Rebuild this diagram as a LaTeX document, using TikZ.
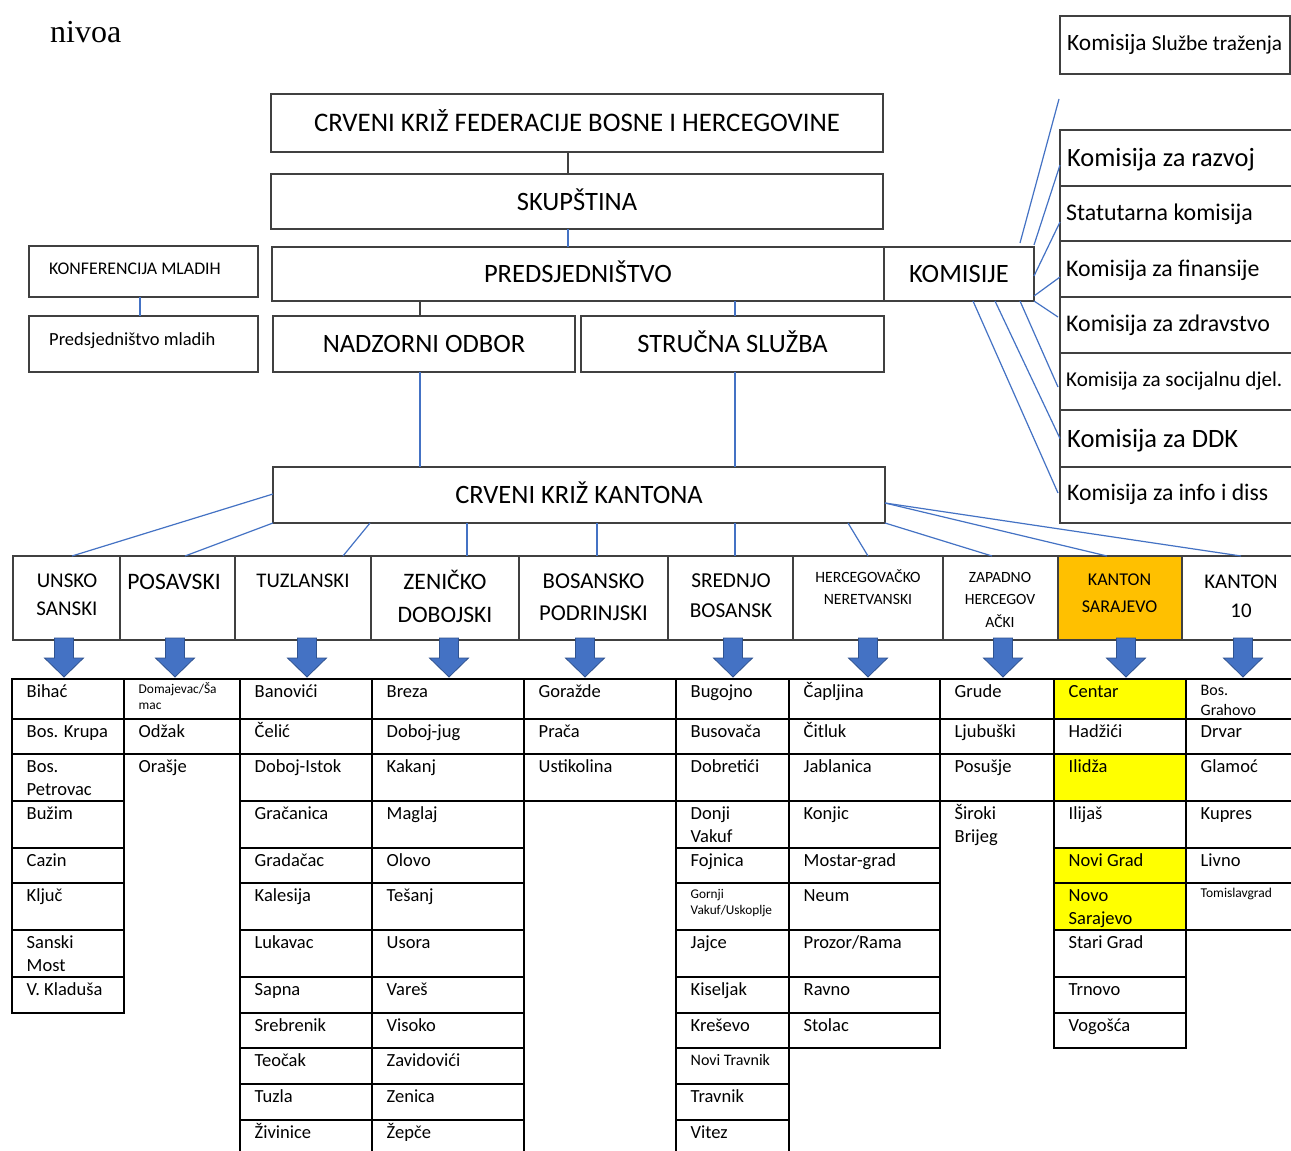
\documentclass[tikz,border=0pt]{standalone}
\usepackage{fontspec}
\setmainfont{Carlito}
\newfontfamily\timesf{Liberation Serif}
\usetikzlibrary{calc}
\definecolor{lnblue}{HTML}{4472C4}
\definecolor{arrfill}{HTML}{4472C4}
\definecolor{arrdraw}{HTML}{2F528F}
\definecolor{boxc}{HTML}{404040}
\definecolor{orangec}{HTML}{FFC000}
\definecolor{yel}{HTML}{FFFF00}
\newcommand\fs[2][]{\fontsize{#2}{#2}\selectfont}
\newcommand\bx[7][]{\node[box,minimum width={#5pt-#3pt},minimum height={#6pt-#4pt},#1] (#2) at (#3,#4) {#7};}
\newcommand\hd[4]{\node[hdr,minimum width={#3pt-#2pt},minimum height=84pt,fill=#4] (#1) at (#2,556) {};}
\newcommand\tc[8][]{\draw[tbl,fill=#7] (#3,#5) rectangle (#4,#6); \node[ctext,#1] (#2) at (#3+14.5,#5+18.5) {#8};}
\begin{document}
\begin{tikzpicture}[x=1pt,y=-1pt,
  box/.style={draw=boxc,line width=1.4pt,anchor=north west,inner sep=0pt,outer sep=0pt,text height=17pt,text depth=0pt,font=\fs{26.5}},
  hdr/.style={draw=boxc,line width=1.6pt,anchor=north west,inner sep=0pt,outer sep=0pt},
  conn/.style={draw=lnblue,line width=1.2pt},
  dconn/.style={draw=boxc,line width=1.2pt},
  lbl/.style={anchor=base west,inner sep=0pt},
  clbl/.style={anchor=base,inner sep=0pt,align=center},
  tbl/.style={draw=black,line width=2.6pt},
  ctext/.style={anchor=base west,inner sep=0pt,align=left,font=\fontsize{18.5}{23}\selectfont},
  two/.style={yshift=-23pt},
  smallA/.style={font=\fontsize{13.4}{16}\selectfont,yshift=-11.5pt},
  smallG/.style={font=\fontsize{13.3}{16}\selectfont,yshift=-12.5pt},
  smallN/.style={font=\fontsize{16}{16}\selectfont,yshift=1.5pt},
  smallB/.style={font=\fontsize{16}{20}\selectfont,yshift=-17.5pt},
  smallT/.style={font=\fontsize{13.5}{16}\selectfont,yshift=4.5pt},
  barrow/.style={fill=arrfill,draw=arrdraw,line width=0.8pt}]
\fill[white] (0,0) rectangle (1291,1151);
\useasboundingbox (0,0) rectangle (1291,1151);

\node[lbl,font=\timesf\fontsize{32}{32}\selectfont] (niv) at (50,42) {nivoa};

% upper structure
\bx[font=\fs{26.8}]{fed}{271}{94}{883}{152}{CRVENI KRIŽ FEDERACIJE BOSNE I HERCEGOVINE}
\bx{skup}{271}{174}{883}{229}{SKUPŠTINA}
\bx{pred}{272}{247}{884}{301}{PREDSJEDNIŠTVO}
\bx{kom}{884}{247}{1034}{301}{KOMISIJE}
\bx{konf}{29}{246}{258}{297}{}
\node[lbl,font=\fs{17.8}] (konft) at (49,274) {KONFERENCIJA MLADIH};
\bx{pmlad}{29}{316}{258}{372}{}
\node[lbl,font=\fs{18.5}] (pmladt) at (49,345) {Predsjedništvo mladih};
\bx{nadz}{273}{316}{575}{372}{NADZORNI ODBOR}
\bx{struc}{581}{316}{884}{372}{STRUČNA SLUŽBA}
\bx{kant}{273}{467}{885}{523}{CRVENI KRIŽ KANTONA}

% commissions
\bx{ksl}{1060}{16}{1290}{74}{}
\node[lbl] (kslt) at (1067,50) {\fs{23.4}Komisija \fs{21.3}Službe traženja};
\bx{kraz}{1060}{130}{1296}{186}{}
\bx{kstat}{1060}{186}{1296}{241}{}
\bx{kfin}{1060}{241}{1296}{297}{}
\bx{kzdr}{1060}{297}{1296}{353}{}
\bx{ksoc}{1060}{353}{1296}{410}{}
\bx{kddk}{1060}{410}{1296}{467}{}
\bx{kinfo}{1060}{467}{1296}{523}{}
\node[lbl,font=\fs{26.4}] (krazt) at (1067,166) {Komisija za razvoj};
\node[lbl,font=\fs{23.9}] (kstatt) at (1066,220) {Statutarna komisija};
\node[lbl,font=\fs{23.8}] (kfint) at (1066,276) {Komisija za finansije};
\node[lbl,font=\fs{23.9}] (kzdrt) at (1066,331) {Komisija za zdravstvo};
\node[lbl,font=\fs{21.1}] (ksoct) at (1066,386) {Komisija za socijalnu djel.};
\node[lbl,font=\fs{26.5}] (kddkt) at (1067,447) {Komisija za DDK};
\node[lbl,font=\fs{23.7}] (kinfot) at (1067,500) {Komisija za info i diss};

% connectors upper
\draw[dconn] ($(fed.south)+(-9,0)$) -- ($(skup.north)+(-9,0)$);
\draw[conn] ($(skup.south)+(-9,0)$) -- ($(pred.north)+(-10,0)$);
\draw[conn] ($(konf.south)+(-3.5,0)$) -- ($(pmlad.north)+(-3.5,0)$);
\draw[dconn] ($(nadz.north)+(-4,0)$) -- ($(pred.south)+(-158,0)$);
\draw[conn] ($(struc.north)+(2.5,0)$) -- ($(pred.south)+(157,0)$);
\draw[conn] ($(nadz.south)+(-4,0)$) -- ($(kant.north)+(-159,0)$);
\draw[conn] ($(struc.south)+(2.5,0)$) -- ($(kant.north)+(156,0)$);

\coordinate (slfree) at (1059,99);
\draw[conn] ($(kom.north east)+(-14,-4)$) -- (slfree);
\draw[conn] ($(kom.north east)+(0,-2)$) -- ($(kraz.west)+(0,7)$);
\draw[conn] ($(kom.east)+(0,2)$) -- ($(kstat.west)+(0,8.5)$);
\draw[conn] ($(kom.east)+(0,22)$) -- ($(kfin.west)+(0,8)$);
\draw[conn] (kom.south east) -- ($(kzdr.west)+(-2,-8)$);
\draw[conn] ($(kom.south east)+(-14,0)$) -- ($(ksoc.west)+(-2,5.5)$);
\draw[conn] ($(kom.south east)+(-39,0)$) -- (kddk.west);
\draw[conn] ($(kom.south east)+(-61,0)$) -- ($(kinfo.west)+(-2,-2)$);

% canton headers
\hd{hus}{13}{120}{white}
\hd{hpos}{120}{235}{white}
\hd{htuz}{235}{371}{white}
\hd{hzen}{371}{519}{white}
\hd{hbos}{519}{668}{white}
\hd{hsred}{668}{793}{white}
\hd{hherc}{793}{943}{white}
\hd{hzap}{943}{1058}{white}
\hd{hsar}{1058}{1182}{orangec}
\hd{hk10}{1182}{1300}{white}
\node[clbl,font=\fontsize{21}{28}\selectfont] (tus) at (67,615) {UNSKO\\SANSKI};
\node[clbl,font=\fontsize{23.6}{33}\selectfont] (tpos) at (174,589) {POSAVSKI};
\node[clbl,font=\fontsize{20.8}{28}\selectfont] (ttuz) at (303,587) {TUZLANSKI};
\node[clbl,font=\fontsize{23.6}{33}\selectfont] (tzen) at (445,622) {ZENIČKO\\DOBOJSKI};
\node[clbl,font=\fontsize{22.7}{32}\selectfont] (tbos) at (593.5,620) {BOSANSKO\\PODRINJSKI};
\node[clbl,font=\fontsize{21.3}{30}\selectfont] (tsred) at (731,617) {SREDNJO\\BOSANSK};
\node[clbl,font=\fontsize{15.7}{22}\selectfont] (therc) at (868,604) {HERCEGOVAČKO\\NERETVANSKI};
\node[clbl,font=\fontsize{15.6}{22.5}\selectfont] (tzap) at (1000,627) {ZAPADNO\\HERCEGOV\\AČKI};
\node[clbl,font=\fontsize{18}{27}\selectfont] (tsar) at (1119.5,612) {KANTON\\SARAJEVO};
\node[clbl,font=\fontsize{20.9}{29}\selectfont] (tk10) at (1241,617) {KANTON\\10};

% connectors to cantons
\draw[conn] ($(kant.west)+(0,-1)$) -- ($(hus.north)+(5.5,0)$);
\draw[conn] (kant.south west) -- ($(hpos.north)+(7.5,0)$);
\draw[conn] ($(kant.south west)+(97,0)$) -- ($(htuz.north)+(40,0)$);
\draw[conn] ($(kant.south west)+(194,0)$) -- ($(hzen.north)+(22,0)$);
\draw[conn] ($(kant.south west)+(324,0)$) -- ($(hbos.north)+(3.5,0)$);
\draw[conn] ($(kant.south west)+(462,0)$) -- ($(hsred.north)+(4.5,0)$);
\draw[conn] ($(kant.south west)+(575,0)$) -- (hherc.north);
\draw[conn] (kant.south east) -- ($(hzap.north)+(-8.5,0)$);
\draw[conn] ($(kant.east)+(0,8)$) -- ($(hsar.north)+(-13,0)$);
\draw[conn] ($(kant.east)+(0,8)$) -- (hk10.north);

% block arrows
\foreach \ax in {64,175,307,449,585,733,868,1003,1126,1243}{
  \draw[barrow] (\ax-9.5,638) -- (\ax+9.5,638) -- (\ax+9.5,658) -- (\ax+19.5,658) -- (\ax,677) -- (\ax-19.5,658) -- (\ax-9.5,658) -- cycle;
}

% table: Unsko-sanski
\tc{u1}{12}{124}{679}{719}{white}{Bihać}
\tc{u2}{12}{124}{719}{754}{white}{Bos. Krupa}
\tc[two]{u3}{12}{124}{754}{801}{white}{Bos.\\Petrovac}
\tc{u4}{12}{124}{801}{848}{white}{Bužim}
\tc{u5}{12}{124}{848}{883}{white}{Cazin}
\tc{u6}{12}{124}{883}{930}{white}{Ključ}
\tc[two]{u7}{12}{124}{930}{977}{white}{Sanski\\Most}
\tc{u8}{12}{124}{977}{1013}{white}{V. Kladuša}
% Posavski
\tc[smallA]{p1}{124}{240}{679}{719}{white}{Domajevac/Ša\\mac}
\tc{p2}{124}{240}{719}{754}{white}{Odžak}
\node[ctext] (p3) at (124+14.5,754+18.5) {Orašje};
% Tuzlanski
\tc{t1}{240}{372}{679}{719}{white}{Banovići}
\tc{t2}{240}{372}{719}{754}{white}{Čelić}
\tc{t3}{240}{372}{754}{801}{white}{Doboj-Istok}
\tc{t4}{240}{372}{801}{848}{white}{Gračanica}
\tc{t5}{240}{372}{848}{883}{white}{Gradačac}
\tc{t6}{240}{372}{883}{930}{white}{Kalesija}
\tc{t7}{240}{372}{930}{977}{white}{Lukavac}
\tc{t8}{240}{372}{977}{1013}{white}{Sapna}
\tc{t9}{240}{372}{1013}{1048}{white}{Srebrenik}
\tc{t10}{240}{372}{1048}{1084}{white}{Teočak}
\tc{t11}{240}{372}{1084}{1120}{white}{Tuzla}
\tc{t12}{240}{372}{1120}{1160}{white}{Živinice}
% Zenicko-dobojski
\tc{z1}{372}{524}{679}{719}{white}{Breza}
\tc{z2}{372}{524}{719}{754}{white}{Doboj-jug}
\tc{z3}{372}{524}{754}{801}{white}{Kakanj}
\tc{z4}{372}{524}{801}{848}{white}{Maglaj}
\tc{z5}{372}{524}{848}{883}{white}{Olovo}
\tc{z6}{372}{524}{883}{930}{white}{Tešanj}
\tc{z7}{372}{524}{930}{977}{white}{Usora}
\tc{z8}{372}{524}{977}{1013}{white}{Vareš}
\tc{z9}{372}{524}{1013}{1048}{white}{Visoko}
\tc{z10}{372}{524}{1048}{1084}{white}{Zavidovići}
\tc{z11}{372}{524}{1084}{1120}{white}{Zenica}
\tc{z12}{372}{524}{1120}{1160}{white}{Žepče}
% Bosansko-podrinjski
\tc{b1}{524}{676}{679}{719}{white}{Goražde}
\tc{b2}{524}{676}{719}{754}{white}{Prača}
\tc{b3}{524}{676}{754}{801}{white}{Ustikolina}
% Srednjobosanski
\tc{s1}{676}{789}{679}{719}{white}{Bugojno}
\tc{s2}{676}{789}{719}{754}{white}{Busovača}
\tc{s3}{676}{789}{754}{801}{white}{Dobretići}
\tc[two]{s4}{676}{789}{801}{848}{white}{Donji\\Vakuf}
\tc{s5}{676}{789}{848}{883}{white}{Fojnica}
\tc[smallG]{s6}{676}{789}{883}{930}{white}{Gornji\\Vakuf/Uskoplje}
\tc{s7}{676}{789}{930}{977}{white}{Jajce}
\tc{s8}{676}{789}{977}{1013}{white}{Kiseljak}
\tc{s9}{676}{789}{1013}{1048}{white}{Kreševo}
\tc[smallN]{s10}{676}{789}{1048}{1084}{white}{Novi Travnik}
\tc{s11}{676}{789}{1084}{1120}{white}{Travnik}
\tc{s12}{676}{789}{1120}{1160}{white}{Vitez}
% Hercegovacko-neretvanski
\tc{h1}{789}{940}{679}{719}{white}{Čapljina}
\tc{h2}{789}{940}{719}{754}{white}{Čitluk}
\tc{h3}{789}{940}{754}{801}{white}{Jablanica}
\tc{h4}{789}{940}{801}{848}{white}{Konjic}
\tc{h5}{789}{940}{848}{883}{white}{Mostar-grad}
\tc{h6}{789}{940}{883}{930}{white}{Neum}
\tc{h7}{789}{940}{930}{977}{white}{Prozor/Rama}
\tc{h8}{789}{940}{977}{1013}{white}{Ravno}
\tc{h9}{789}{940}{1013}{1048}{white}{Stolac}
% Zapadnohercegovacki
\tc{w1}{940}{1054}{679}{719}{white}{Grude}
\tc{w2}{940}{1054}{719}{754}{white}{Ljubuški}
\tc{w3}{940}{1054}{754}{801}{white}{Posušje}
\node[ctext,two] (w4) at (940+14.5,801+18.5) {Široki\\Brijeg};
% Kanton Sarajevo
\tc{k1}{1054}{1186}{679}{719}{yel}{Centar}
\tc{k2}{1054}{1186}{719}{754}{white}{Hadžići}
\tc{k3}{1054}{1186}{754}{801}{yel}{Ilidža}
\tc{k4}{1054}{1186}{801}{848}{white}{Ilijaš}
\tc{k5}{1054}{1186}{848}{883}{yel}{Novi Grad}
\tc[two]{k6}{1054}{1186}{883}{930}{yel}{Novo\\Sarajevo}
\tc{k7}{1054}{1186}{930}{977}{white}{Stari Grad}
\tc{k8}{1054}{1186}{977}{1013}{white}{Trnovo}
\tc{k9}{1054}{1186}{1013}{1048}{white}{Vogošća}
% Kanton 10
\tc[smallB]{x1}{1186}{1300}{679}{719}{white}{Bos.\\Grahovo}
\tc{x2}{1186}{1300}{719}{754}{white}{Drvar}
\tc{x3}{1186}{1300}{754}{801}{white}{Glamoć}
\tc{x4}{1186}{1300}{801}{848}{white}{Kupres}
\tc{x5}{1186}{1300}{848}{883}{white}{Livno}
\tc[smallT]{x6}{1186}{1300}{883}{930}{white}{Tomislavgrad}
\end{tikzpicture}
\end{document}
